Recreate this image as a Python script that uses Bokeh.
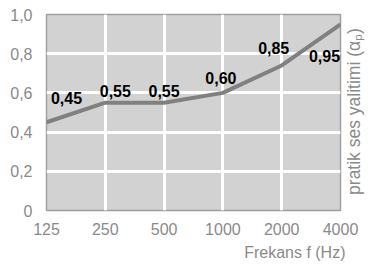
import math
from bokeh.plotting import figure
from bokeh.models import Range1d, FixedTicker, ColumnDataSource, Label
from bokeh.core.properties import value
from bokeh.embed import file_html
from bokeh.resources import INLINE

# data
freq_labels = ["125", "250", "500", "1000", "2000", "4000"]
line_vals = [0.45, 0.55, 0.55, 0.60, 0.74, 0.95]
value_labels = ["0,45", "0,55", "0,55", "0,60", "0,85", "0,95"]
y_ticks = [0, 0.2, 0.4, 0.6, 0.8, 1.0]
y_tick_labels = ["0", "0,2", "0,4", "0,6", "0,8", "1,0"]
y_title = "pratik ses yalitimi (α\u209a)"
x_title = "Frekans f (Hz)"

# label layout offsets (pixels)
lab_dx = [20, 10, 0, -2, -8, -16]
lab_dy = [-24, -12, -12, -15, -17, 32]

FONT = "Liberation Sans"
GRAY_TXT = "#8a8a8a"

xs = list(range(len(freq_labels)))

p = figure(width=374, height=264, output_backend="svg", toolbar_location=None,
           x_range=Range1d(0, len(xs) - 1), y_range=Range1d(0, 1.0),
           min_border_left=46, min_border_right=34, min_border_top=14,
           min_border_bottom=54)

p.background_fill_color = "#d2d2d2"
p.border_fill_color = "white"
p.outline_line_color = "#a0a0a0"
p.outline_line_width = 1.5

p.xaxis.ticker = FixedTicker(ticks=xs)
p.xaxis.major_label_overrides = {i: s for i, s in enumerate(freq_labels)}
p.yaxis.ticker = FixedTicker(ticks=y_ticks)
p.yaxis.major_label_overrides = {t: s for t, s in zip(y_ticks, y_tick_labels)}

for ax in (p.xaxis[0], p.yaxis[0]):
    ax.axis_line_color = None
    ax.major_tick_line_color = None
    ax.minor_tick_line_color = None
    ax.major_label_text_font = FONT
    ax.major_label_text_font_size = "16px"
    ax.major_label_text_color = GRAY_TXT
p.xaxis.major_label_standoff = 6
p.yaxis[0].major_label_standoff = 8

# titles placed in the side panels (screen units relative to the panel)
p.add_layout(Label(x=13, y=99, x_units="screen", y_units="screen",
                   angle=math.pi / 2, text=y_title, text_font=FONT,
                   text_font_size="17.5px", text_color=GRAY_TXT,
                   text_align="center", text_baseline="middle"), "right")

p.add_layout(Label(x=299, y=2, x_units="screen", y_units="screen",
                   text=x_title, text_font=FONT, text_font_size="16px",
                   text_color=GRAY_TXT, text_align="right",
                   text_baseline="middle"), "below")

p.xgrid.ticker = FixedTicker(ticks=xs[1:-1])
p.ygrid.ticker = FixedTicker(ticks=y_ticks[1:-1])
for g in (p.xgrid, p.ygrid):
    g.grid_line_color = "white"
    g.grid_line_width = 3

p.line(xs, line_vals, line_color="#808080", line_width=4)

src = ColumnDataSource(dict(x=xs, y=line_vals, t=value_labels, dx=lab_dx, dy=lab_dy))
p.text(x="x", y="y", text="t", x_offset="dx", y_offset="dy", source=src,
       text_font=value(FONT), text_font_style="bold", text_font_size="16px",
       text_color="black", text_align="center", text_baseline="middle")

open("out.html", "w").write(file_html(p, INLINE))
